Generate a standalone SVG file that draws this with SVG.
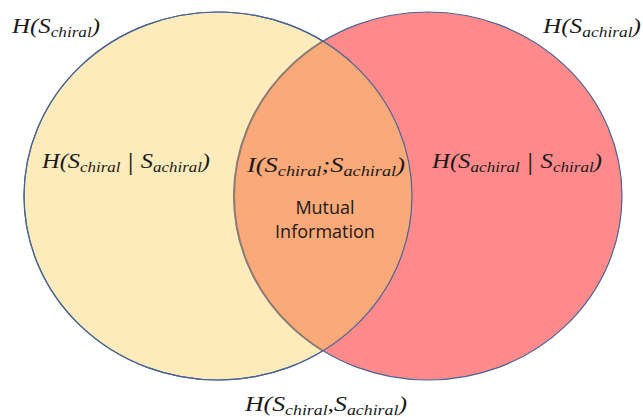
<svg xmlns="http://www.w3.org/2000/svg" width="643" height="417" viewBox="0 0 643 417">
  <style>
    .math { font-family: "Liberation Serif", "DejaVu Serif", serif; font-style: italic; font-size: 21px; fill: #1a1a1a; }
    .sub { font-size: 14.5px; }
    .bar { font-style: normal; font-size: 25px; }
    .plain { font-family: "Open Sans", "Liberation Sans", sans-serif; font-size: 18px; fill: #1a1a1a; text-anchor: middle; }
    .edge { fill: none; stroke: #4a6496; stroke-width: 1.2; }
  </style>
  <defs>
    <clipPath id="clipLeft">
      <ellipse cx="218" cy="196" rx="194" ry="184"/>
    </clipPath>
  </defs>
  <rect width="643" height="417" fill="#ffffff"/>

  <g id="set-chiral">
    <ellipse cx="218" cy="196" rx="194" ry="184" fill="#fdebbb" stroke="#4a6496" stroke-width="1.2"/>
  </g>
  <g id="set-achiral">
    <ellipse cx="428" cy="196" rx="194" ry="184" fill="#ff8a8c" stroke="#4a6496" stroke-width="1.2"/>
  </g>
  <g id="intersection">
    <ellipse cx="428" cy="196" rx="194" ry="184" fill="#faa978" stroke="#8c7c72" stroke-width="2" clip-path="url(#clipLeft)"/>
    <ellipse class="edge" cx="218" cy="196" rx="194" ry="184"/>
  </g>

  <g id="label-H-chiral">
    <text class="math" x="12" y="33" textLength="88" lengthAdjust="spacingAndGlyphs">H(S<tspan class="sub" dy="4">chiral</tspan><tspan dy="-4">)</tspan></text>
  </g>
  <g id="label-H-achiral">
    <text class="math" x="543" y="33" textLength="98" lengthAdjust="spacingAndGlyphs">H(S<tspan class="sub" dy="4">achiral</tspan><tspan dy="-4">)</tspan></text>
  </g>
  <g id="label-H-chiral-given-achiral">
    <text class="math" x="42" y="168" textLength="168" lengthAdjust="spacingAndGlyphs">H(S<tspan class="sub" dy="4">chiral</tspan><tspan class="bar" dy="-2"> | </tspan><tspan dy="-2">S</tspan><tspan class="sub" dy="4">achiral</tspan><tspan dy="-4">)</tspan></text>
  </g>
  <g id="label-mutual-information">
    <text class="math" x="247" y="172" textLength="158" lengthAdjust="spacingAndGlyphs">I(S<tspan class="sub" dy="4">chiral</tspan><tspan dy="-4">;</tspan>S<tspan class="sub" dy="4">achiral</tspan><tspan dy="-4">)</tspan></text>
    <text class="plain" x="325" y="214">Mutual</text>
    <text class="plain" x="325" y="238">Information</text>
  </g>
  <g id="label-H-achiral-given-chiral">
    <text class="math" x="432" y="168" textLength="170" lengthAdjust="spacingAndGlyphs">H(S<tspan class="sub" dy="4">achiral</tspan><tspan class="bar" dy="-2"> | </tspan><tspan dy="-2">S</tspan><tspan class="sub" dy="4">chiral</tspan><tspan dy="-4">)</tspan></text>
  </g>
  <g id="label-H-joint">
    <text class="math" x="245" y="411" textLength="162" lengthAdjust="spacingAndGlyphs">H(S<tspan class="sub" dy="4">chiral</tspan><tspan dy="-4">,</tspan>S<tspan class="sub" dy="4">achiral</tspan><tspan dy="-4">)</tspan></text>
  </g>
</svg>
